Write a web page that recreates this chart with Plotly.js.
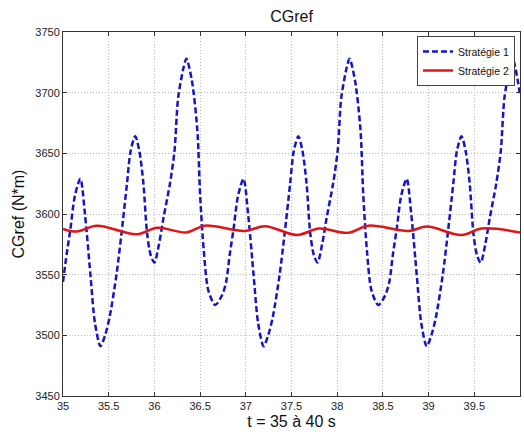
<!DOCTYPE html>
<html>
<head>
<meta charset="utf-8">
<script src="https://cdn.plot.ly/plotly-3.0.1.min.js"></script>
<style>html,body{margin:0;padding:0;background:#fff;}#chart{width:524px;height:432px;}</style>
</head>
<body>
<div id="chart"></div>
<script>
// Stratégie 1 (blue dashed)
var t1 = [35.00,35.04,35.08,35.13,35.19,35.24,35.30,35.35,35.41,35.46,35.51,35.585,35.64,35.70,35.74,35.79,35.835,35.88,35.92,35.96,36.00,36.05,36.10,36.17,36.22,36.26,36.32,36.35,36.41,36.47,36.50,36.54,36.59,36.665,36.74,
36.785,36.825,36.865,36.915,36.975,37.025,37.085,37.135,37.195,37.245,37.295,37.37,37.425,37.485,37.525,37.575,37.62,37.665,37.705,37.745,37.785,37.835,37.885,37.955,38.005,38.045,38.105,38.135,38.195,38.255,38.285,38.325,38.375,38.45,38.525,
38.57,38.61,38.65,38.70,38.76,38.81,38.87,38.92,38.98,39.03,39.08,39.155,39.21,39.27,39.31,39.36,39.405,39.45,39.49,39.53,39.57,39.62,39.67,39.74,39.79,39.83,39.89,39.92,39.98,40.00];
var v1 = [3544,3567,3587,3615,3629,3600,3550,3510,3491,3500,3515,3550,3584,3625,3652,3664,3652,3625,3584,3566,3560,3575,3597,3625,3652,3696,3721,3728,3710,3669,3616,3570,3537,3525,3533,
3544,3567,3587,3615,3629,3600,3550,3510,3491,3500,3515,3550,3584,3625,3652,3664,3652,3625,3584,3566,3560,3575,3597,3625,3652,3696,3721,3728,3710,3669,3616,3570,3537,3525,3533,
3544,3567,3587,3615,3629,3600,3550,3510,3491,3500,3515,3550,3584,3625,3652,3664,3652,3625,3584,3566,3560,3575,3597,3625,3652,3696,3721,3728,3708,3697];
// Stratégie 2 (red solid)
var t2 = [35.00,35.15,35.37,35.81,36.03,36.35,36.55,36.99,37.21,37.56,37.80,38.12,38.34,38.78,38.98,39.36,39.58,40.00];
var v2 = [3587.7,3585.5,3590.4,3583.3,3588.7,3584.8,3590.4,3586,3590,3582.7,3588,3584.5,3590.4,3586,3589.6,3582.7,3588,3584.8];
var names = ["Stratégie 1","Stratégie 2"];
var xTicks = [35,35.5,36,36.5,37,37.5,38,38.5,39,39.5,40];
var yTicks = [3450,3500,3550,3600,3650,3700,3750];

var font = "Liberation Sans, Arial, Helvetica, sans-serif";
var traces = [
  {x:t1, y:v1, name:names[0], mode:"lines", line:{color:"#1414c8", width:2.5, dash:"6px,3px", shape:"spline", smoothing:0.8}},
  {x:t2, y:v2, name:names[1], mode:"lines", line:{color:"#e01414", width:2.5, shape:"spline", smoothing:1}}
];
var axisCommon = {
  showline:true, linecolor:"#333", linewidth:1, mirror:"ticks",
  ticks:"inside", ticklen:4, tickcolor:"#333",
  showgrid:true, gridcolor:"#bdbdbd", griddash:"1px,2px", gridwidth:1,
  zeroline:false, tickfont:{family:font, size:11, color:"#222"}
};
var layout = {
  width:524, height:432,
  margin:{l:63, r:4, t:32, b:36},
  paper_bgcolor:"#fff", plot_bgcolor:"#fff",
  title:{text:"CGref", font:{family:font, size:16, color:"#111"}, x:0.5, xref:"paper", y:0.963, yref:"container", yanchor:"middle"},
  xaxis:Object.assign({}, axisCommon, {range:[35,40], tickvals:xTicks, ticktext:xTicks.map(String),
    title:{text:"t = 35 à 40 s", font:{family:font, size:16, color:"#111"}, standoff:4}}),
  yaxis:Object.assign({}, axisCommon, {range:[3450,3750], tickvals:yTicks, ticktext:yTicks.map(String),
    title:{text:"CGref (N*m)", font:{family:font, size:16, color:"#111"}, standoff:6}}),
  showlegend:true,
  legend:{x:0.989, y:0.989, xanchor:"right", yanchor:"top", bgcolor:"#fff", bordercolor:"#444", borderwidth:1,
    font:{family:font, size:10.5, color:"#111"}, tracegroupgap:0, itemwidth:30}
};
Plotly.newPlot("chart", traces, layout, {staticPlot:true, displayModeBar:false});
</script>
</body>
</html>
